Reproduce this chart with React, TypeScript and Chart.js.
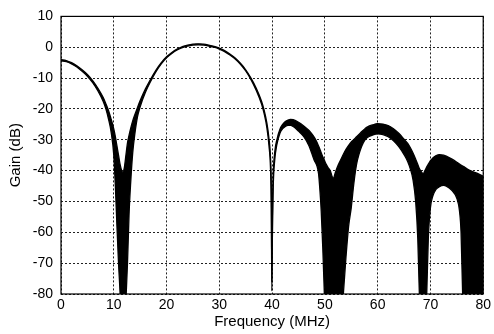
import React, { useEffect, useRef } from "react";
import { Chart, registerables } from "chart.js";

Chart.register(...registerables);

// Frequency grid (MHz) shared by the upper and lower envelopes of the curve bundle
const FREQ_MHZ = [
  0, 1, 2, 3, 4, 5, 6, 7, 8, 8.5, 9, 9.5, 10, 10.3, 10.6, 10.9, 11.2, 11.5, 11.7, 12,
  12.3, 12.6, 12.9, 13.2, 13.6, 14, 14.5, 15, 16, 17, 18, 19, 20, 21, 22, 23, 24, 25,
  26, 27, 28, 29, 30, 31, 32, 33, 34, 35, 36, 37, 38, 38.5, 39, 39.4, 39.7, 39.85,
  39.95, 40.05, 40.2, 40.5, 40.9, 41.5, 42, 42.5, 43, 43.5, 44, 45, 46, 47, 47.5, 48,
  48.5, 48.8, 49, 49.3, 49.6, 49.9, 50.2, 50.6, 51, 51.6, 52, 52.5, 53, 53.5, 54, 54.5,
  55, 55.5, 56, 56.5, 57, 57.6, 58, 59, 60, 61, 62, 63, 64, 65, 65.7, 66.2, 66.7, 67.2,
  67.6, 67.9, 68.2, 68.6, 69, 69.3, 69.6, 70, 70.5, 71, 71.7, 72.5, 73, 74, 75, 75.5,
  75.8, 76.1, 76.4, 77, 78, 79, 80,
];

// Highest gain among the bundle of curves (dB)
const GAIN_UPPER_DB = [
  -4.0, -4.3, -5.0, -6.0, -7.3, -8.8, -10.8, -13.3, -16.3, -18.3, -20.5, -23.3, -26.5,
  -29.0, -32.0, -35.0, -38.0, -40.0, -40.5, -39.0, -35.0, -31.0, -28.5, -26.3, -23.8,
  -21.8, -19.5, -17.3, -13.5, -10.3, -7.4, -5.0, -3.1, -1.7, -0.6, 0.2, 0.7, 1.0, 1.1,
  1.0, 0.7, 0.3, -0.3, -1.1, -2.2, -3.5, -5.2, -7.3, -10.0, -13.3, -17.5, -20.5, -24.5,
  -29.5, -36.0, -46.0, -76.0, -55.0, -42.0, -34.0, -30.0, -26.5, -25.0, -24.1, -23.6,
  -23.4, -23.5, -24.3, -25.5, -27.0, -28.0, -29.2, -30.8, -32.0, -32.8, -34.2, -35.5,
  -36.6, -37.8, -39.0, -40.0, -42.5, -40.5, -38.3, -36.5, -34.7, -33.1, -31.8, -30.7,
  -29.9, -29.0, -28.2, -27.3, -26.4, -25.9, -25.2, -24.8, -24.9, -25.4, -26.4, -27.9,
  -29.8, -31.2, -32.6, -34.3, -36.3, -38.0, -39.3, -40.2, -41.0, -39.8, -38.8, -37.9,
  -36.8, -35.8, -35.2, -34.8, -35.0, -35.3, -36.2, -37.3, -37.9, -38.2, -38.5, -38.8,
  -39.5, -40.3, -41.0, -41.8,
];

// Lowest gain among the bundle of curves (dB)
const GAIN_LOWER_DB = [
  -4.4, -4.7, -5.4, -6.4, -7.8, -9.4, -11.5, -14.2, -17.6, -20.0, -23.3, -27.5, -35.0,
  -45.0, -58.0, -70.0, -80.0, -95, -95, -95, -82, -70, -54, -44, -34, -28, -22.5, -19.3,
  -14.6, -11.0, -7.9, -5.4, -3.4, -2.0, -0.9, -0.1, 0.4, 0.7, 0.8, 0.7, 0.4, 0.0, -0.6,
  -1.4, -2.5, -3.8, -5.5, -7.7, -10.5, -14.0, -18.4, -21.6, -26.0, -31.8, -39.5, -52.0,
  -79.0, -62.0, -46.0, -36.5, -31.6, -27.8, -26.4, -25.7, -25.3, -25.3, -25.7, -27.2,
  -29.0, -32.0, -34.3, -36.7, -38.5, -41.0, -45.0, -53.0, -65.0, -80.0, -95, -95, -95,
  -95, -95, -95, -95, -80, -68, -58, -52, -44, -38, -34.5, -32.0, -30.0, -29.3, -28.5,
  -28.1, -28.3, -29.0, -30.3, -32.2, -34.8, -37.1, -39.5, -43.0, -50.0, -62.0, -80.0,
  -95, -95, -95, -80, -62, -52, -48, -46.2, -45.2, -44.8, -45.0, -46.3, -49.0, -53.0,
  -60, -80, -95, -95, -95, -95, -95,
];

// Two individual curves visible as thin gaps inside the last lobe
const ARC_A_FREQ = [71.2, 71.7, 72.3, 73.0, 73.7];
const ARC_A_DB = [-43.0, -41.6, -40.9, -41.3, -42.8];
const ARC_B_FREQ = [70.7, 71.2, 72.3, 73.3, 74.2];
const ARC_B_DB = [-48.5, -45.5, -43.5, -44.2, -46.5];

const X_TICKS = [0, 10, 20, 30, 40, 50, 60, 70, 80];
const Y_TICKS = [10, 0, -10, -20, -30, -40, -50, -60, -70, -80];

const toPoints = (xs: number[], ys: number[]) => xs.map((x, i) => ({ x, y: ys[i] }));

const FONT_FAMILY = "'Liberation Sans', Arial, Helvetica, sans-serif";

const framePlugin = {
  id: "frame",
  afterDatasetsDraw(chart: any) {
    const { ctx, chartArea: a } = chart;
    ctx.save();
    ctx.setLineDash([]);
    ctx.strokeStyle = "#000";
    ctx.lineWidth = 1.2;
    ctx.strokeRect(a.left, a.top, a.right - a.left, a.bottom - a.top);
    ctx.restore();
  },
};

export default function App() {
  const canvasRef = useRef<HTMLCanvasElement | null>(null);

  useEffect(() => {
    if (!canvasRef.current) return;
    const chart = new Chart(canvasRef.current, {
      type: "line",
      data: {
        datasets: [
          {
            data: toPoints(FREQ_MHZ, GAIN_UPPER_DB),
            borderColor: "#000",
            borderWidth: 1.3,
            pointRadius: 0,
            fill: false,
            cubicInterpolationMode: "monotone",
          },
          {
            data: toPoints(FREQ_MHZ, GAIN_LOWER_DB),
            borderColor: "#000",
            borderWidth: 1.3,
            pointRadius: 0,
            backgroundColor: "#000",
            fill: "-1",
            cubicInterpolationMode: "monotone",
          },
          {
            data: toPoints(ARC_A_FREQ, ARC_A_DB),
            borderColor: "#fff",
            borderWidth: 1.1,
            pointRadius: 0,
            fill: false,
            cubicInterpolationMode: "monotone",
          },
          {
            data: toPoints(ARC_B_FREQ, ARC_B_DB),
            borderColor: "#fff",
            borderWidth: 1.1,
            pointRadius: 0,
            fill: false,
            cubicInterpolationMode: "monotone",
          },
        ],
      },
      options: {
        animation: false,
        responsive: false,
        parsing: false as any,
        layout: { padding: { top: 13, right: 8, left: 0, bottom: 0 } },
        plugins: {
          legend: { display: false },
          tooltip: { enabled: false },
        },
        scales: {
          x: {
            type: "linear",
            min: 0,
            max: 80,
            afterBuildTicks: (s: any) => {
              s.ticks = X_TICKS.map((v) => ({ value: v }));
            },
            afterFit: (s: any) => {
              s.height = 40;
            },
            ticks: {
              color: "#000",
              padding: 3,
              maxRotation: 0,
              font: { family: FONT_FAMILY, size: 14 },
            },
            grid: { color: "#222", lineWidth: 1, drawTicks: false },
            border: { display: false, dash: [2, 2] },
            title: {
              display: true,
              text: "Frequency (MHz)",
              color: "#000",
              font: { family: FONT_FAMILY, size: 15 },
              padding: { top: 0, bottom: 3 },
            },
          },
          y: {
            type: "linear",
            min: -80,
            max: 10,
            afterBuildTicks: (s: any) => {
              s.ticks = Y_TICKS.map((v) => ({ value: v }));
            },
            afterFit: (s: any) => {
              s.width = 61;
            },
            ticks: {
              color: "#000",
              padding: 8,
              font: { family: FONT_FAMILY, size: 14 },
            },
            grid: { color: "#222", lineWidth: 1, drawTicks: false },
            border: { display: false, dash: [2, 2] },
            title: {
              display: true,
              text: "Gain (dB)",
              color: "#000",
              font: { family: FONT_FAMILY, size: 15 },
              padding: { top: 7, bottom: 0 },
            },
          },
        },
      },
      plugins: [framePlugin],
    } as any);
    return () => chart.destroy();
  }, []);

  return (
    <div style={{ position: "absolute", left: 0, top: 0, width: 494, height: 334, background: "#fff" }}>
      <canvas ref={canvasRef} width={494} height={334} style={{ display: "block" }} />
    </div>
  );
}
